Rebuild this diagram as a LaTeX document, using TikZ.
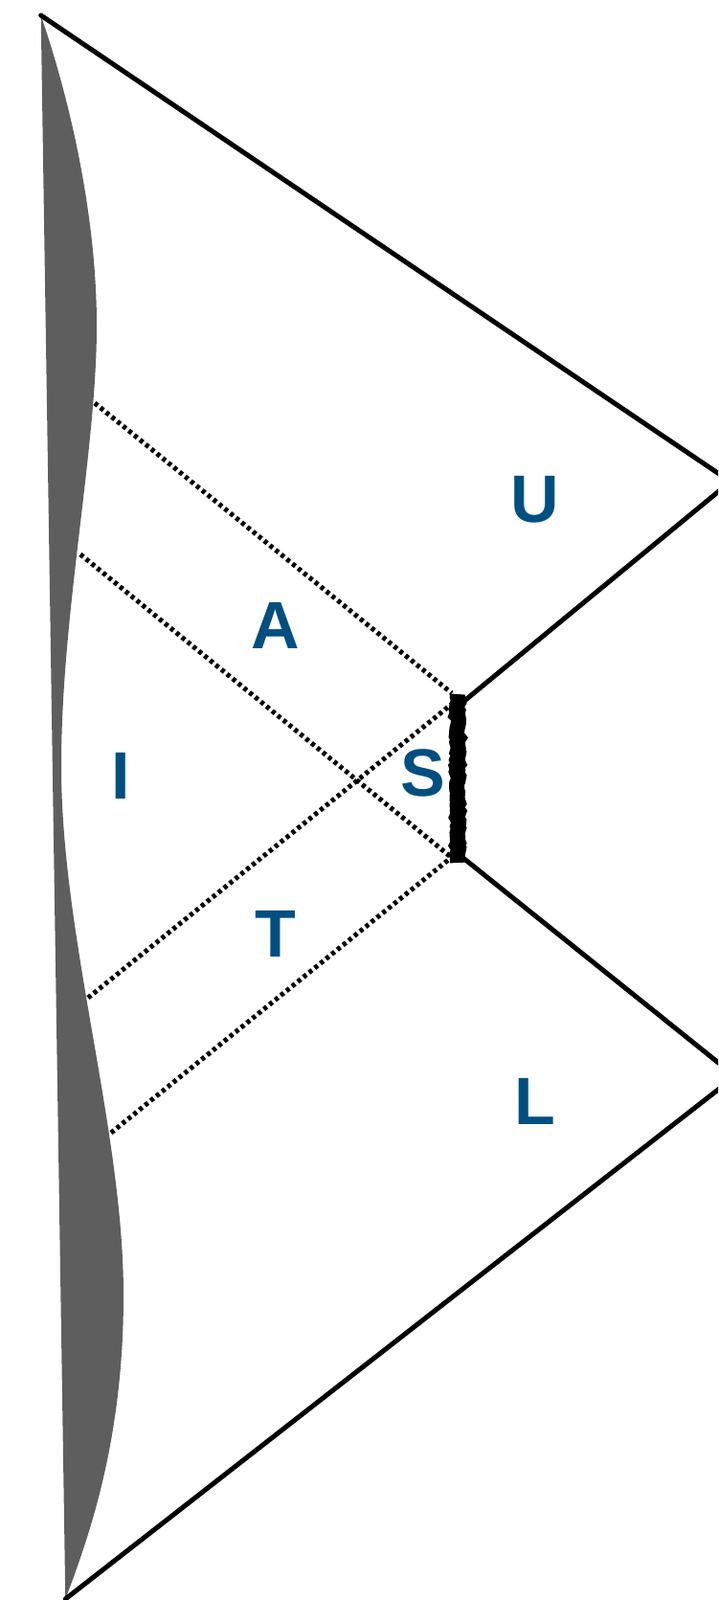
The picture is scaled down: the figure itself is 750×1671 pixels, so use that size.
\documentclass[tikz,border=0pt]{standalone}
\usepackage{fontspec}
\newfontfamily\lblfont{Liberation Sans}
\usepackage{xcolor}
\definecolor{lblblue}{HTML}{004F80}
\definecolor{wallgray}{HTML}{5E5E5E}
\usetikzlibrary{positioning,decorations.pathmorphing}

\begin{document}
\begin{tikzpicture}[
    x=1pt, y=-1pt,
    edge/.style={line width=5pt, line cap=round},
    dotline/.style={line width=5pt, dash pattern=on 4pt off 3.6pt},
    brane/.style={line width=16pt, line cap=butt,
        decorate, decoration={random steps, segment length=3pt, amplitude=1.2pt}},
    lbl/.style={inner sep=0pt, text=lblblue, font=\lblfont\bfseries\fontsize{70}{70}\selectfont}
]
\useasboundingbox (0,0) rectangle (750,1671);
\clip (0,0) rectangle (750,1671);

% Corners
\coordinate (tl) at (42.7,16);
\coordinate (bl) at (68.3,1670);
\coordinate (ur) at (763,503);
\coordinate (lr) at (768,1124);
\coordinate (st) at (485,732);
\coordinate (sb) at (485,897);

% Grey wall
\fill[wallgray] (tl) .. controls (75,110) and (101,230) .. (101,340)
    .. controls (101,470) and (64,640) .. (64,800)
    .. controls (64,980) and (129,1180) .. (129,1353)
    .. controls (129,1500) and (95,1600) .. (bl) -- cycle;

% Dotted rays
\coordinate (a1) at (99,421);
\coordinate (a2) at (84,579);
\coordinate (t1) at (92,1042);
\coordinate (t2) at (116,1183);
\draw[dotline] (a1) -- (472,724);
\draw[dotline] (a2) -- (471,895);
\draw[dotline] (t1) -- (471,736);
\draw[dotline] (t2) -- (472,895);

% Horizons
\draw[edge] (tl) -- (ur);
\draw[edge] (st) -- (ur);
\draw[edge] (sb) -- (lr);
\draw[edge] (bl) -- (lr);

% Brane
\draw[brane] (478,725) -- (478,901);

% Labels
\node[lbl] (U) at (559,522) {U};
\node[lbl] (A) at (288,653) {A};
\node[lbl] (I) at (126,810) {I};
\node[lbl] (S) at (442,807) {S};
\node[lbl] (T) at (288,975) {T};
\node[lbl] (L) at (559,1150) {L};

\end{tikzpicture}
\end{document}
